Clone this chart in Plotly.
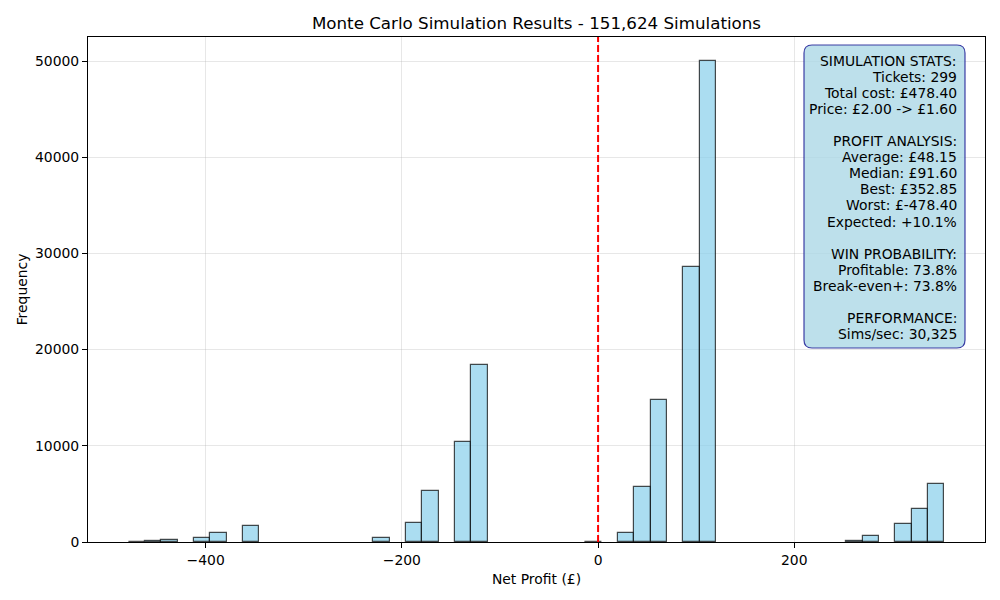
import numpy as np
import plotly.graph_objects as go

# ---- data ----
profit_min = -478.40
profit_max = 352.85
n_bins = 50
bin_counts = [10, 100, 200, 0, 450, 900, 0, 1630, 0, 0,
              0, 0, 0, 0, 0, 380, 0, 1940, 5270, 0,
              10400, 18400, 0, 0, 0, 0, 0, 0, 50, 0,
              900, 5690, 14730, 0, 28550, 50000, 0, 0, 0, 0,
              0, 0, 0, 0, 100, 660, 0, 1870, 3400, 5994]
x_ticks = [-400, -200, 0, 200]
y_ticks = [0, 10000, 20000, 30000, 40000, 50000]
title_text = "Monte Carlo Simulation Results - 151,624 Simulations"
stats_lines = [
    "SIMULATION STATS:",
    "Tickets: 299",
    "Total cost: £478.40",
    "Price: £2.00 -> £1.60",
    "",
    "PROFIT ANALYSIS:",
    "Average: £48.15",
    "Median: £91.60",
    "Best: £352.85",
    "Worst: £-478.40",
    "Expected: +10.1%",
    "",
    "WIN PROBABILITY:",
    "Profitable: 73.8%",
    "Break-even+: 73.8%",
    "",
    "PERFORMANCE:",
    "Sims/sec: 30,325",
]

# ---- derived ----
edges = np.linspace(profit_min, profit_max, n_bins + 1)
centers = (edges[:-1] + edges[1:]) / 2
bw = edges[1] - edges[0]
span = profit_max - profit_min
x_range = [profit_min - 0.05 * span, profit_max + 0.05 * span]
y_range = [0, max(bin_counts) * 1.05]
y_plot = [c if c > 0 else None for c in bin_counts]

FONT = "DejaVu Sans"
W, H = 1000, 600
L, R, T, B = 88, 15, 37, 58
pw, ph = W - L - R, H - T - B

fig = go.Figure()
fig.add_trace(go.Bar(
    x=centers, y=y_plot, width=[bw] * n_bins,
    marker=dict(color="rgba(135,206,235,0.7)",
                line=dict(color="rgba(0,0,0,0.7)", width=1.2)),
    showlegend=False, hoverinfo="x+y",
))

# break-even line
fig.add_shape(type="line", xref="x", yref="paper", x0=0, x1=0, y0=0, y1=1,
              line=dict(color="red", width=2, dash="7px,3px"), layer="above")

# stats box (rounded)
def px2paper_x(px):
    return (px - L) / pw

def px2paper_y(py):
    return (H - B - py) / ph

bx0, bx1, by0, by1 = 804, 965, 45, 348
r = 8
path = (f"M {px2paper_x(bx0 + r)} {px2paper_y(by0)} "
        f"L {px2paper_x(bx1 - r)} {px2paper_y(by0)} "
        f"Q {px2paper_x(bx1)} {px2paper_y(by0)} {px2paper_x(bx1)} {px2paper_y(by0 + r)} "
        f"L {px2paper_x(bx1)} {px2paper_y(by1 - r)} "
        f"Q {px2paper_x(bx1)} {px2paper_y(by1)} {px2paper_x(bx1 - r)} {px2paper_y(by1)} "
        f"L {px2paper_x(bx0 + r)} {px2paper_y(by1)} "
        f"Q {px2paper_x(bx0)} {px2paper_y(by1)} {px2paper_x(bx0)} {px2paper_y(by1 - r)} "
        f"L {px2paper_x(bx0)} {px2paper_y(by0 + r)} "
        f"Q {px2paper_x(bx0)} {px2paper_y(by0)} {px2paper_x(bx0 + r)} {px2paper_y(by0)} Z")
fig.add_shape(type="path", xref="paper", yref="paper", path=path,
              fillcolor="rgba(173,216,230,0.8)",
              line=dict(color="rgba(30,30,150,0.85)", width=1.2), layer="above")

for i, line in enumerate(stats_lines):
    if not line:
        continue
    fig.add_annotation(xref="paper", yref="paper",
                       x=px2paper_x(958.5), y=px2paper_y(61 + i * 16.05),
                       xanchor="right", yanchor="middle", text=line,
                       showarrow=False, font=dict(family=FONT, size=13.9, color="black"))

axis_common = dict(showline=True, linecolor="black", linewidth=1, mirror=True,
                   ticks="outside", ticklen=5, tickcolor="black", tickwidth=1,
                   showgrid=True, gridcolor="rgba(176,176,176,0.3)", gridwidth=1,
                   zeroline=False, tickfont=dict(family=FONT, size=13.9, color="black"))

fig.update_layout(
    width=W, height=H,
    margin=dict(l=L, r=R, t=T, b=B),
    plot_bgcolor="white", paper_bgcolor="white",
    bargap=0,
    title=dict(text=title_text, x=(L + pw / 2) / W, xanchor="center",
               y=1 - 23 / H, yanchor="middle",
               font=dict(family=FONT, size=16.7, color="black")),
    xaxis=dict(range=x_range, tickvals=x_ticks,
               title=dict(text="Net Profit (£)", standoff=7,
                          font=dict(family=FONT, size=13.9, color="black")),
               **axis_common),
    yaxis=dict(range=y_range, tickvals=y_ticks, tickformat="d",
               title=dict(text="Frequency", standoff=4,
                          font=dict(family=FONT, size=13.9, color="black")),
               **axis_common),
)

fig.write_html("out.html")
